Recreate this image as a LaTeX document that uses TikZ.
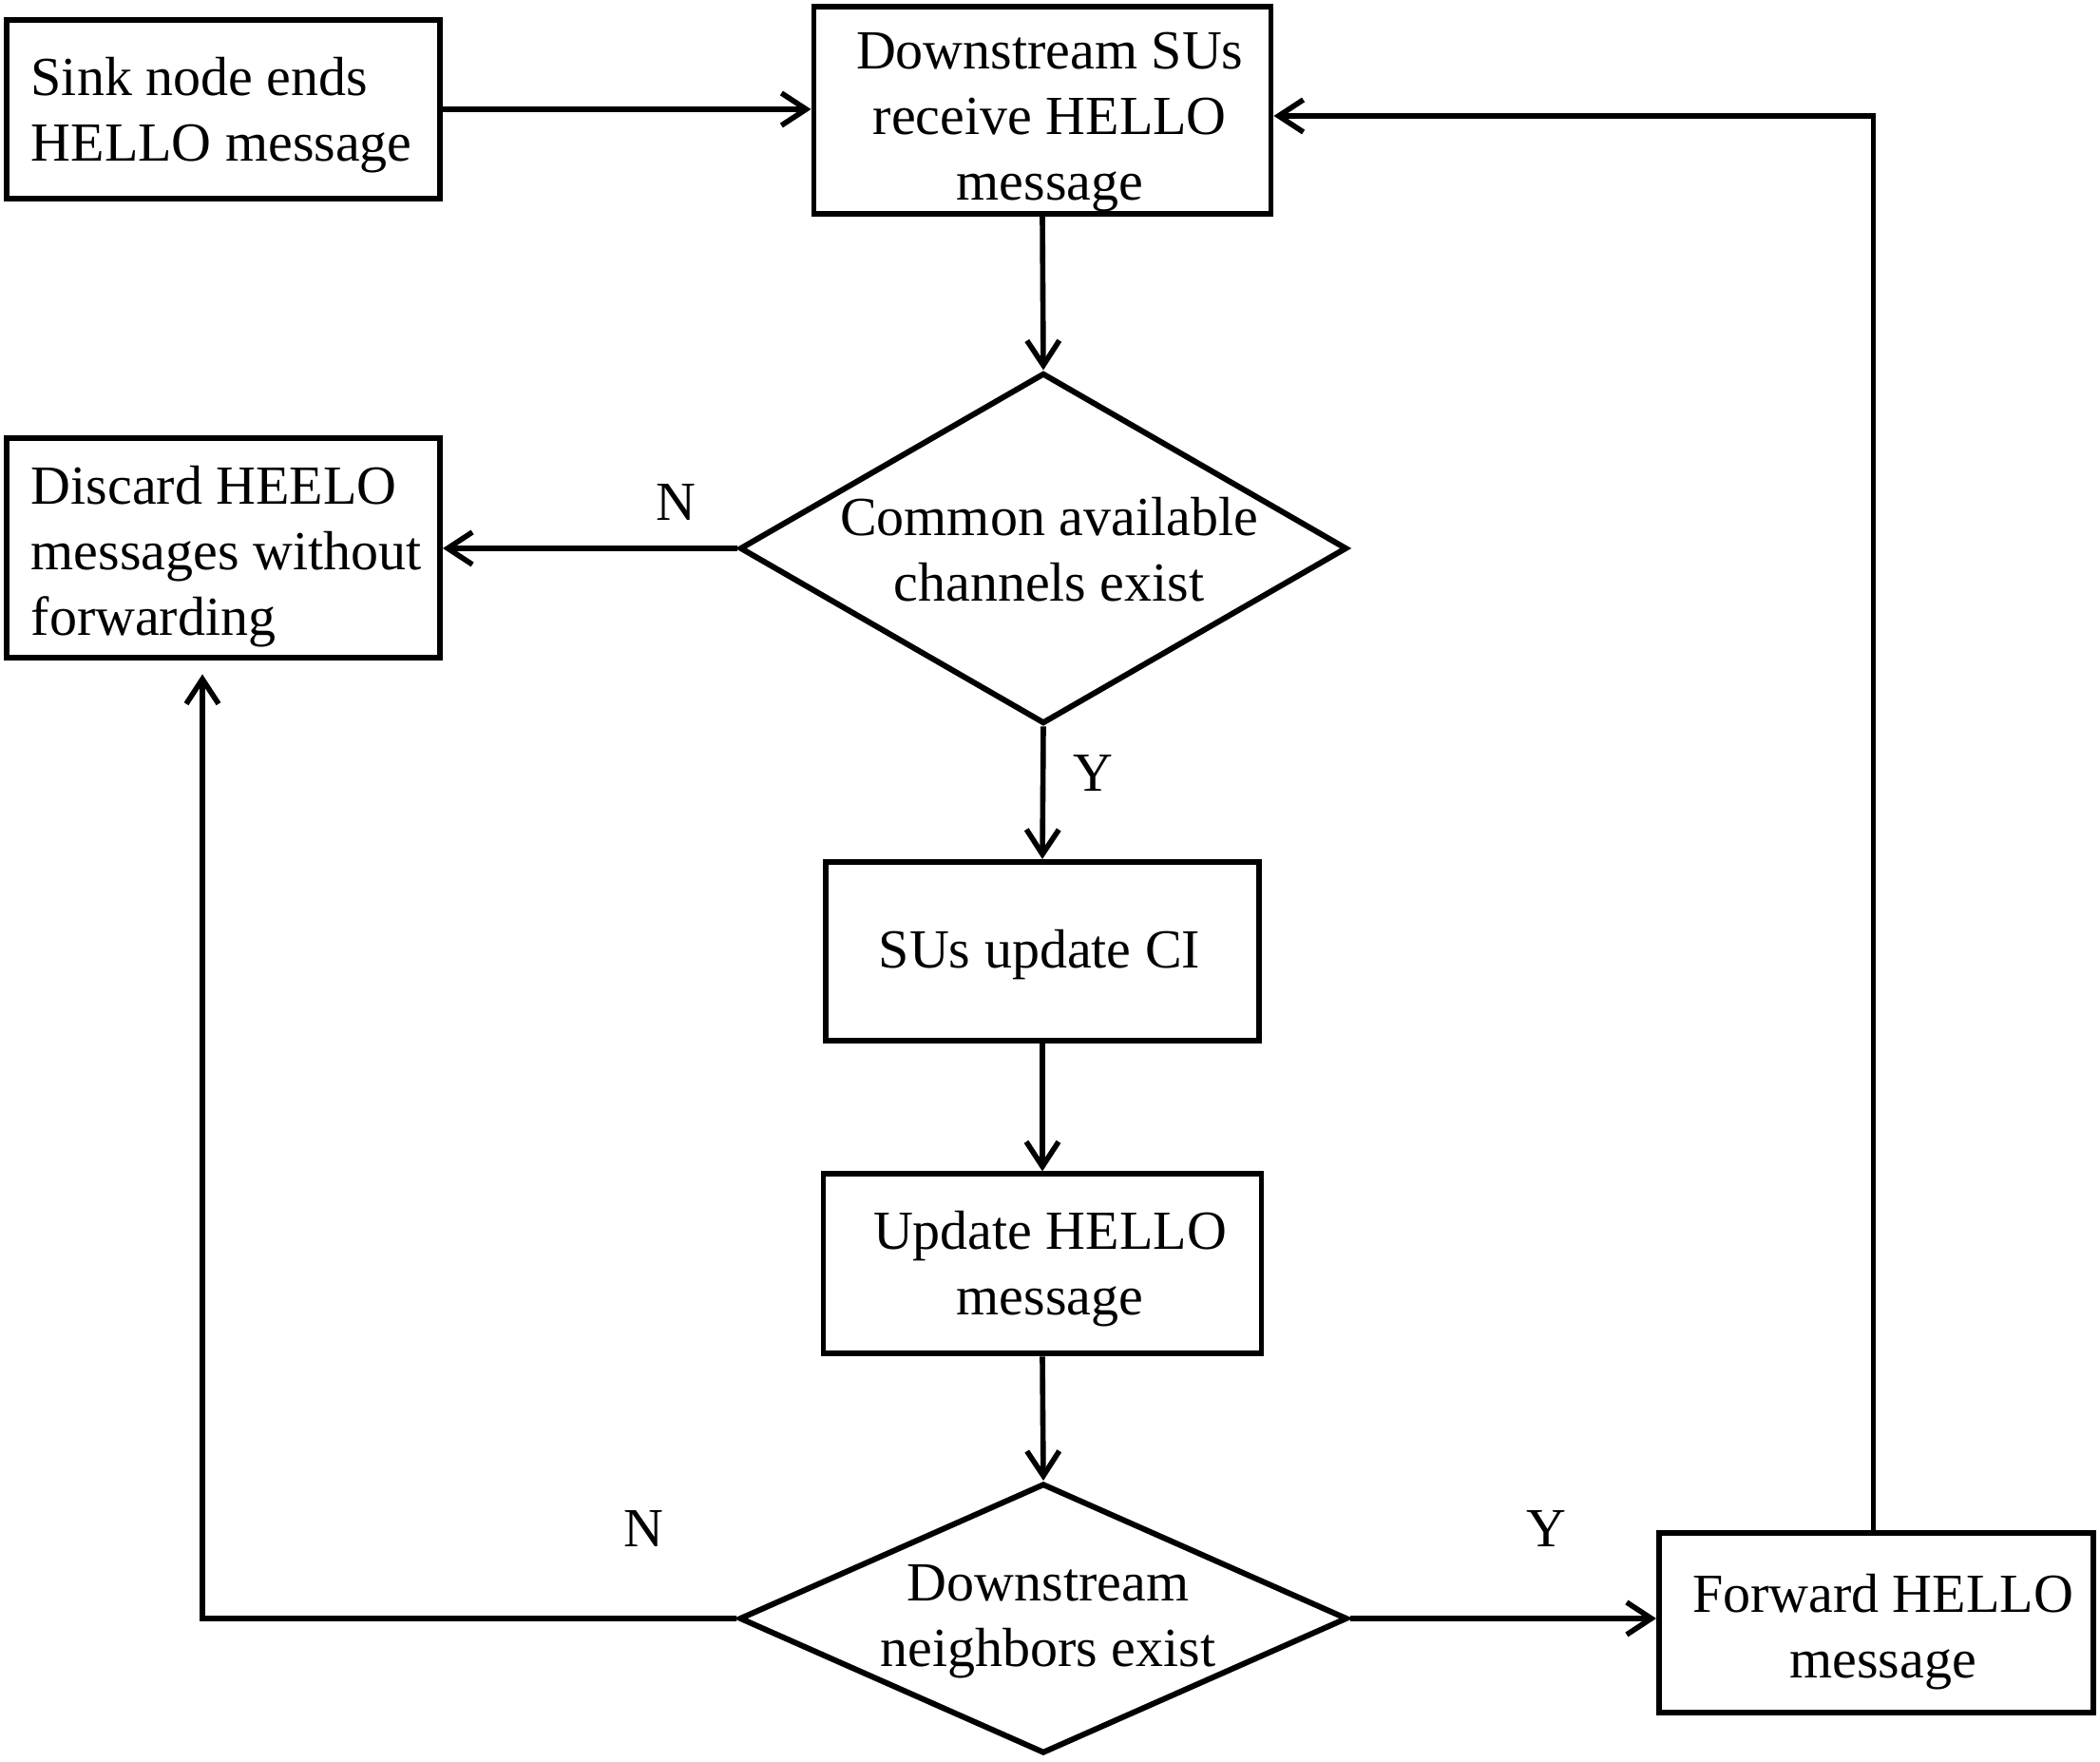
\documentclass[tikz,border=0pt]{standalone}
\usepackage{fontspec}
\setmainfont{Liberation Serif}
\usetikzlibrary{arrows.meta,shapes.geometric,calc}
\begin{document}
\begin{tikzpicture}[
  every node/.style={font=\fontsize{16.5}{19.7}\selectfont},
  box/.style={draw, line width=1.7pt, inner sep=0pt},
  dia/.style={draw, diamond, line width=1.7pt, inner sep=0pt},
  txt/.style={inner sep=0pt},
  lab/.style={inner sep=0pt},
  conn/.style={line width=1.6pt, -{Straight Barb[length=0.26cm,width=0.34cm]}}
]
\useasboundingbox (0,0) rectangle (22.10,18.54);

% shapes
\node[box, minimum width=4.56cm, minimum height=1.88cm] (sink) at (2.35,17.39) {};
\node[box, minimum width=4.81cm, minimum height=2.18cm] (down) at (10.97,17.38) {};
\node[dia, minimum width=6.39cm, minimum height=3.69cm] (d1) at (10.98,12.77) {};
\node[box, minimum width=4.56cm, minimum height=2.31cm] (discard) at (2.35,12.77) {};
\node[box, minimum width=4.56cm, minimum height=1.88cm] (sus) at (10.97,8.53) {};
\node[box, minimum width=4.61cm, minimum height=1.89cm] (upd) at (10.97,5.24) {};
\node[dia, minimum width=6.40cm, minimum height=2.84cm] (d2) at (10.98,1.51) {};
\node[box, minimum width=4.57cm, minimum height=1.89cm] (fwd) at (19.745,1.465) {};

% texts
\node[txt, align=left, anchor=west] (sinkt) at ($(sink.west)+(0.28,-0.064)$) {Sink node ends\\HELLO message};
\node[txt, align=center] (downt) at ($(down.center)+(0.078,-0.127)$) {Downstream SUs\\receive HELLO\\message};
\node[txt, align=center] (d1t) at ($(d1.center)+(0.06,-0.015)$) {Common available\\channels exist};
\node[txt, align=left, anchor=west] (discardt) at ($(discard.west)+(0.28,-0.085)$) {Discard HEELO\\messages without\\forwarding};
\node[txt] (sust) at ($(sus.center)+(-0.03,-0.04)$) {SUs update CI};
\node[txt, align=center] (updt) at ($(upd.center)+(0.08,-0.05)$) {Update HELLO\\message};
\node[txt, align=center] (d2t) at ($(d2.center)+(0.05,-0.03)$) {Downstream\\neighbors exist};
\node[txt, align=center] (fwdt) at ($(fwd.center)+(0.07,-0.10)$) {Forward HELLO\\message};

% branch labels
\node[lab] (n1) at (7.11,13.25) {N};
\node[lab] (y1) at (11.50,10.40) {Y};
\node[lab] (n2) at (6.77,2.45) {N};
\node[lab] (y2) at (16.27,2.45) {Y};

% connectors
\draw[conn] (sink.east) -- (sink.east -| down.west);
\draw[conn] (down.south) -- (d1.north);
\draw[conn] (d1.west) -- (d1.west -| discard.east);
\draw[conn] (d1.south) -- (sus.north);
\draw[conn] (sus.south) -- (upd.north);
\draw[conn] (upd.south) -- (d2.north);
\draw[conn] (d2.east) -- (d2.east -| fwd.west);
\draw[conn] ([xshift=-0.03cm]fwd.north) |- ([yshift=-0.06cm]down.east);
\draw[conn, shorten >=0.14cm] (d2.west) -| ([xshift=-0.22cm]discard.south);
\end{tikzpicture}
\end{document}
